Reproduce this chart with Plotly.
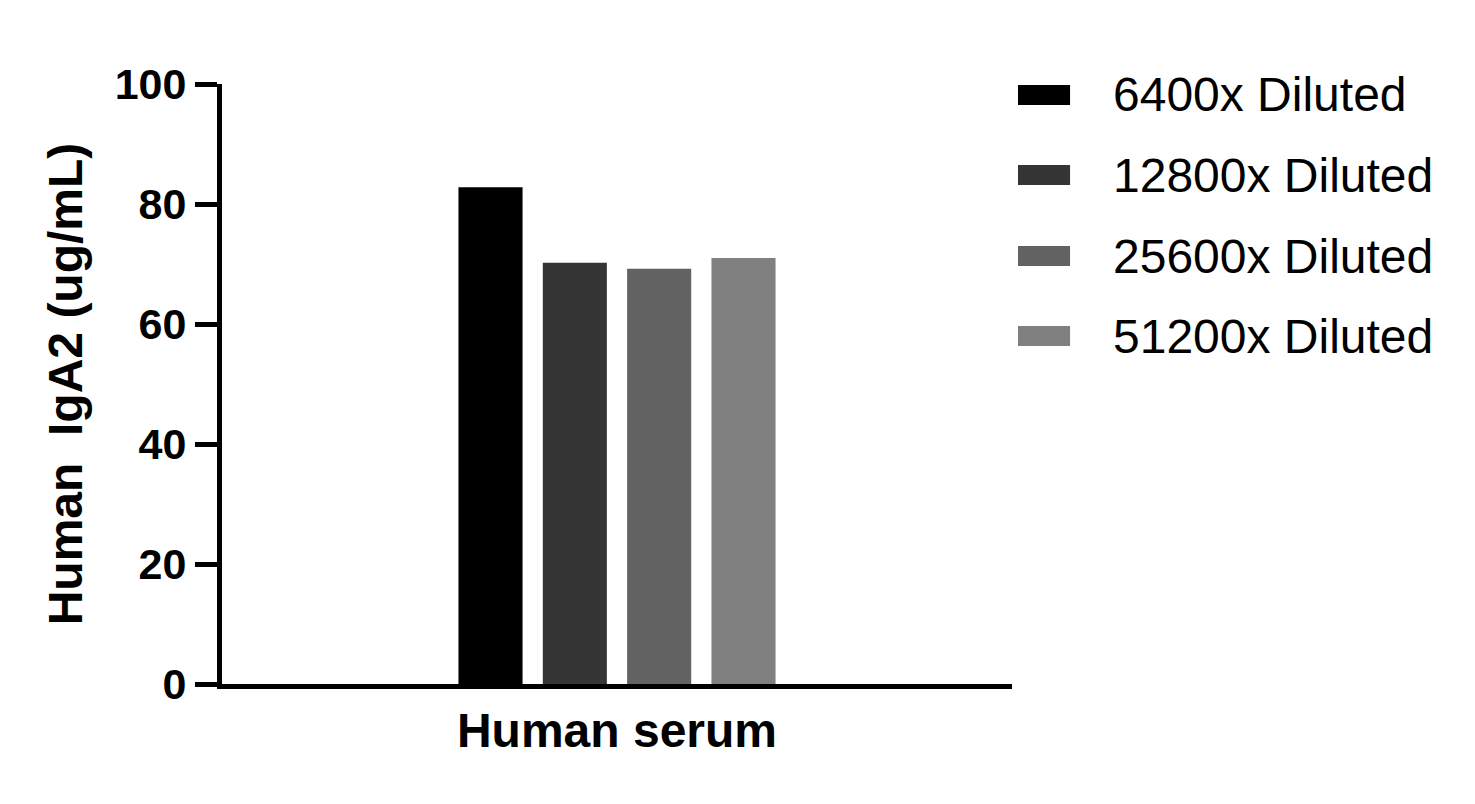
import plotly.graph_objects as go

# data
categories = ["Human serum"]
series_names = ["6400x Diluted", "12800x Diluted", "25600x Diluted", "51200x Diluted"]
series_values = [[82.8], [70.2], [69.2], [71.0]]
series_colors = ["#000000", "#353535", "#626262", "#808080"]
y_ticks = [0, 20, 40, 60, 80, 100]

FONT = "Liberation Sans"

fig = go.Figure()
for name, vals, col in zip(series_names, series_values, series_colors):
    fig.add_trace(go.Bar(x=categories, y=vals, name=name,
                         marker=dict(color=col, line=dict(width=0)),
                         showlegend=False))

# hand-built legend so the swatches look like the wide bars of the original
shapes = []
annotations = []
legend_y = [0.9817, 0.8483, 0.7133, 0.58]
for name, col, yc in zip(series_names, series_colors, legend_y):
    shapes.append(dict(type="rect", xref="paper", yref="paper",
                       x0=1.0076, x1=1.0735, y0=yc - 0.0167, y1=yc + 0.0167,
                       fillcolor=col, line=dict(width=0)))
    annotations.append(dict(text=name, xref="paper", yref="paper",
                            x=1.1255, y=yc, xanchor="left", yanchor="middle",
                            showarrow=False,
                            font=dict(family=FONT, size=48, color="black")))

fig.update_layout(
    width=1475, height=804, autosize=False,
    margin=dict(l=214, r=471, t=76, b=128),
    plot_bgcolor="white", paper_bgcolor="white",
    barmode="group", bargap=0.573, bargroupgap=0.24,
    shapes=shapes, annotations=annotations,
    font=dict(family=FONT, color="black"),
)

fig.update_xaxes(
    showline=True, linewidth=5, linecolor="black",
    showgrid=False, zeroline=False, ticks="",
    tickfont=dict(family=FONT, size=48, weight="bold", color="black"),
    ticklabelstandoff=0,
)
fig.update_yaxes(
    range=[0, 100], tickvals=y_ticks,
    showline=True, linewidth=5, linecolor="black",
    showgrid=False, zeroline=False,
    ticks="outside", ticklen=22, tickwidth=5, tickcolor="black",
    tickfont=dict(family=FONT, size=43, weight="bold", color="black"),
    title=dict(text="Human  IgA2 (ug/mL)", standoff=18,
               font=dict(family=FONT, size=48, weight="bold", color="black")),
)

fig.write_html("out.html")
